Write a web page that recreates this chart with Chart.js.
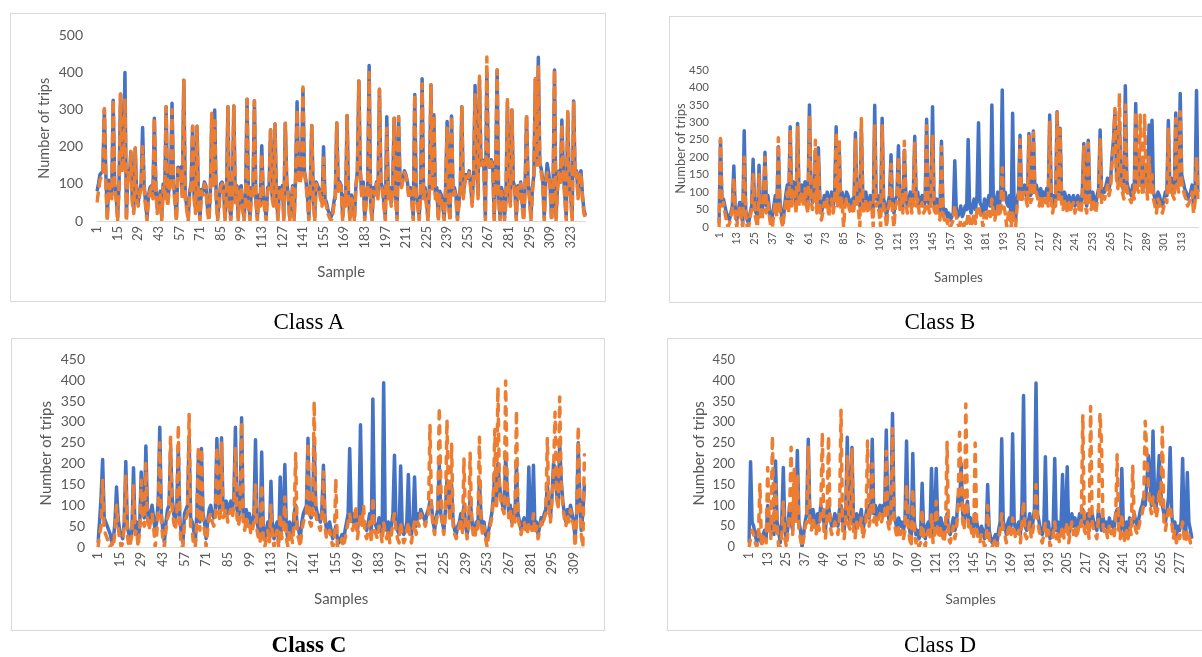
<!DOCTYPE html>
<html>
<head>
<meta charset="utf-8">
<script src="https://cdn.jsdelivr.net/npm/chart.js@4.4.1/dist/chart.umd.min.js"></script>
<style>
  html, body { margin: 0; padding: 0; overflow: hidden; background: #fff; }
  body { width: 1202px; height: 657px; position: relative; }
  .panel { position: absolute; outline: 1px solid #d9d9d9; outline-offset: -1px; background: #fff; }
  .cap { position: absolute; text-align: center; font-family: 'Liberation Serif', 'Times New Roman', serif; font-size: 23px; line-height: 26px; color: #000; }
</style>
</head>
<body>
<div class="panel" style="left:10px;top:13px;width:596px;height:289px"><canvas id="chartA"></canvas></div>
<div class="panel" style="left:669px;top:16px;width:560px;height:287px"><canvas id="chartB"></canvas></div>
<div class="panel" style="left:11px;top:338px;width:594px;height:293px"><canvas id="chartC"></canvas></div>
<div class="panel" style="left:667px;top:338px;width:545px;height:293px"><canvas id="chartD"></canvas></div>
<div class="cap" style="left:0;width:618px;top:309px">Class A</div>
<div class="cap" style="left:640px;width:600px;top:309px">Class B</div>
<div class="cap" style="left:0;width:618px;top:632px;font-weight:bold">Class C</div>
<div class="cap" style="left:640px;width:600px;top:632px">Class D</div>
<script>
// Class A
const actualA = [
  80, 100, 125, 130, 135, 300, 130, 10, 110, 100,
  70, 325, 100, 70, 10, 100, 340, 140, 150, 400,
  10, 135, 110, 185, 60, 30, 195, 70, 50, 80,
  100, 252, 100, 50, 10, 70, 90, 95, 70, 277,
  90, 30, 60, 80, 10, 100, 70, 308, 50, 90,
  110, 317, 100, 60, 10, 145, 135, 145, 70, 379,
  70, 40, 10, 80, 100, 255, 70, 30, 255, 50,
  10, 85, 80, 105, 95, 40, 10, 70, 270, 100,
  299, 70, 10, 50, 100, 105, 90, 10, 70, 308,
  40, 10, 80, 310, 60, 95, 10, 90, 95, 40,
  10, 70, 328, 50, 10, 90, 70, 324, 60, 10,
  70, 50, 203, 70, 40, 10, 90, 95, 246, 70,
  50, 261, 60, 10, 90, 70, 95, 10, 263, 105,
  70, 10, 50, 95, 10, 115, 321, 130, 110, 135,
  355, 135, 110, 70, 10, 95, 257, 70, 10, 105,
  95, 85, 70, 50, 200, 60, 50, 30, 20, 10,
  20, 50, 70, 264, 90, 105, 95, 10, 70, 50,
  284, 60, 10, 70, 50, 10, 95, 135, 377, 135,
  70, 105, 10, 60, 95, 419, 50, 10, 90, 80,
  105, 70, 355, 105, 90, 50, 10, 281, 70, 90,
  50, 95, 277, 70, 10, 281, 105, 95, 115, 135,
  125, 105, 70, 90, 60, 10, 341, 70, 50, 10,
  90, 383, 70, 90, 50, 10, 95, 367, 90, 286,
  70, 90, 10, 80, 70, 40, 10, 90, 268, 50,
  10, 283, 80, 90, 70, 10, 50, 95, 308, 70,
  110, 125, 115, 135, 95, 50, 125, 365, 155, 70,
  380, 155, 165, 145, 10, 400, 155, 145, 165, 155,
  10, 135, 407, 70, 10, 90, 70, 10, 60, 320,
  90, 50, 299, 105, 90, 10, 95, 70, 105, 50,
  10, 90, 280, 105, 70, 10, 90, 125, 383, 155,
  441, 155, 140, 110, 10, 105, 155, 130, 95, 10,
  70, 407, 10, 90, 135, 105, 272, 135, 70, 10,
  290, 105, 70, 10, 323, 125, 135, 70, 125, 135,
  70, 30, 15
];
const predictedA = [
  50, 80, 110, 120, 130, 303, 100, 0, 100, 80,
  60, 327, 90, 60, 0, 90, 343, 130, 140, 330,
  0, 130, 100, 188, 50, 20, 197, 60, 40, 70,
  90, 200, 90, 40, 0, 60, 80, 90, 60, 277,
  80, 20, 50, 70, 0, 90, 60, 308, 40, 80,
  100, 300, 90, 50, 0, 140, 130, 140, 60, 379,
  60, 30, 0, 70, 90, 255, 60, 20, 255, 40,
  0, 80, 70, 100, 90, 30, 0, 60, 290, 90,
  270, 60, 0, 40, 90, 100, 80, 0, 60, 308,
  30, 0, 70, 310, 50, 90, 0, 80, 90, 30,
  0, 60, 328, 40, 0, 80, 60, 324, 50, 0,
  60, 40, 180, 60, 30, 0, 80, 90, 246, 60,
  40, 261, 50, 0, 80, 60, 90, 0, 263, 100,
  60, 0, 40, 90, 0, 110, 300, 120, 100, 130,
  361, 130, 100, 60, 0, 90, 257, 60, 0, 100,
  90, 80, 60, 40, 170, 50, 40, 20, 10, 0,
  10, 40, 60, 264, 80, 100, 90, 0, 60, 40,
  284, 50, 0, 60, 40, 0, 90, 130, 377, 130,
  60, 100, 0, 50, 90, 400, 40, 0, 80, 70,
  100, 60, 355, 100, 80, 40, 0, 250, 60, 80,
  40, 90, 277, 60, 0, 281, 100, 90, 110, 130,
  120, 100, 60, 80, 50, 0, 341, 60, 40, 0,
  80, 370, 60, 80, 40, 0, 90, 367, 80, 286,
  60, 80, 0, 70, 60, 30, 0, 80, 250, 40,
  0, 283, 70, 80, 60, 0, 40, 90, 308, 60,
  100, 120, 110, 130, 90, 40, 120, 340, 150, 60,
  390, 150, 160, 140, 0, 442, 150, 140, 160, 150,
  0, 130, 407, 60, 0, 80, 60, 0, 50, 327,
  80, 40, 299, 100, 80, 0, 90, 60, 100, 40,
  0, 80, 286, 100, 60, 0, 80, 120, 383, 150,
  420, 150, 130, 100, 0, 100, 130, 120, 90, 0,
  60, 407, 0, 80, 130, 100, 260, 130, 60, 0,
  295, 100, 60, 0, 323, 120, 130, 60, 120, 130,
  60, 20, 10
];

// Class B
const actualB = [
  10, 250, 70, 80, 60, 40, 30, 20, 40, 60,
  175, 40, 20, 50, 70, 40, 10, 276, 50, 20,
  10, 40, 60, 194, 60, 40, 30, 177, 50, 40,
  80, 214, 60, 90, 50, 10, 30, 60, 90, 50,
  230, 80, 40, 10, 50, 90, 120, 60, 287, 80,
  130, 110, 60, 297, 80, 110, 120, 90, 130, 80,
  60, 350, 100, 70, 90, 220, 60, 227, 80, 40,
  60, 90, 70, 100, 50, 80, 100, 60, 90, 287,
  80, 240, 70, 100, 60, 80, 100, 90, 70, 60,
  80, 60, 270, 90, 70, 60, 280, 80, 60, 100,
  70, 60, 90, 80, 40, 349, 80, 90, 60, 40,
  312, 80, 60, 30, 70, 90, 207, 60, 40, 80,
  90, 233, 70, 100, 60, 220, 90, 60, 80, 100,
  60, 90, 260, 80, 100, 60, 80, 90, 60, 70,
  309, 80, 60, 90, 345, 70, 60, 80, 50, 40,
  246, 60, 40, 50, 30, 40, 20, 30, 40, 190,
  50, 30, 40, 60, 30, 40, 60, 50, 251, 60,
  40, 60, 80, 50, 90, 299, 70, 60, 40, 80,
  50, 70, 90, 60, 350, 70, 50, 80, 100, 60,
  90, 393, 80, 100, 70, 60, 90, 20, 326, 60,
  20, 80, 100, 263, 90, 110, 120, 100, 80, 268,
  90, 100, 275, 110, 120, 100, 90, 110, 80, 100,
  90, 110, 80, 321, 100, 60, 90, 80, 330, 100,
  283, 90, 70, 100, 80, 60, 90, 70, 80, 90,
  60, 80, 90, 70, 60, 100, 239, 80, 60, 249,
  90, 70, 100, 80, 60, 90, 110, 278, 90, 110,
  100, 120, 140, 110, 130, 200, 250, 332, 160, 130,
  300, 150, 120, 100, 405, 130, 110, 100, 90, 120,
  100, 354, 130, 120, 200, 140, 110, 180, 150, 100,
  292, 120, 306, 100, 80, 60, 100, 90, 70, 60,
  80, 100, 90, 305, 120, 140, 110, 100, 327, 140,
  120, 383, 150, 130, 110, 100, 80, 90, 100, 120,
  60, 90, 391, 100
];
const predictedB = [
  0, 254, 60, 70, 40, 20, 0, 10, 30, 50,
  140, 30, 0, 40, 60, 20, 0, 200, 40, 0,
  0, 30, 50, 150, 40, 20, 0, 150, 30, 20,
  60, 200, 40, 70, 30, 0, 0, 40, 70, 30,
  256, 60, 20, 0, 40, 70, 100, 40, 280, 60,
  100, 90, 40, 290, 60, 90, 100, 60, 110, 60,
  40, 320, 80, 50, 70, 249, 40, 200, 60, 20,
  40, 70, 50, 80, 30, 60, 80, 40, 70, 270,
  60, 251, 50, 80, 0, 60, 80, 70, 50, 40,
  60, 40, 250, 70, 50, 0, 311, 60, 40, 80,
  50, 40, 70, 60, 0, 290, 60, 70, 40, 0,
  290, 60, 40, 0, 50, 70, 180, 40, 0, 60,
  70, 200, 50, 80, 40, 246, 70, 40, 60, 80,
  40, 70, 240, 60, 80, 40, 60, 70, 40, 50,
  290, 60, 40, 70, 260, 50, 40, 60, 30, 20,
  230, 40, 20, 30, 10, 20, 0, 10, 20, 60,
  30, 10, 0, 20, 10, 0, 20, 10, 40, 20,
  0, 20, 40, 10, 50, 60, 40, 30, 0, 40,
  20, 40, 50, 30, 80, 40, 20, 50, 60, 30,
  50, 170, 60, 40, 0, 30, 50, 0, 40, 20,
  0, 60, 80, 250, 70, 90, 100, 80, 60, 260,
  70, 80, 270, 90, 100, 80, 60, 90, 60, 80,
  70, 90, 60, 300, 80, 40, 70, 60, 333, 80,
  280, 70, 50, 80, 60, 40, 70, 50, 60, 70,
  40, 60, 70, 50, 40, 80, 230, 60, 40, 240,
  70, 50, 80, 60, 40, 70, 90, 250, 70, 90,
  80, 100, 120, 90, 110, 180, 230, 340, 140, 110,
  383, 130, 100, 80, 350, 110, 90, 80, 70, 100,
  80, 330, 110, 100, 321, 120, 90, 320, 130, 80,
  200, 100, 150, 80, 60, 40, 80, 70, 50, 40,
  60, 80, 70, 280, 100, 120, 90, 80, 310, 120,
  100, 330, 130, 110, 90, 80, 60, 70, 80, 100,
  40, 70, 200, 80
];

// Class C
const actualC = [
  10, 60, 120, 210, 70, 60, 50, 40, 30, 10,
  20, 60, 144, 70, 40, 30, 20, 60, 205, 50,
  30, 20, 40, 190, 40, 60, 20, 50, 180, 80,
  70, 242, 90, 60, 80, 100, 70, 40, 60, 110,
  287, 80, 40, 10, 60, 90, 100, 235, 120, 80,
  60, 90, 240, 70, 30, 10, 80, 90, 100, 265,
  70, 60, 40, 10, 80, 220, 60, 236, 80, 60,
  20, 60, 90, 100, 80, 70, 90, 260, 110, 80,
  262, 90, 100, 110, 80, 100, 110, 90, 120, 287,
  90, 70, 100, 310, 80, 60, 90, 70, 80, 50,
  60, 80, 257, 60, 40, 30, 228, 50, 20, 40,
  60, 30, 158, 40, 20, 50, 60, 10, 168, 40,
  60, 198, 40, 20, 60, 50, 30, 80, 100, 50,
  40, 20, 60, 80, 90, 100, 261, 80, 70, 90,
  260, 100, 80, 70, 60, 90, 196, 70, 40, 50,
  60, 40, 20, 30, 50, 20, 10, 20, 30, 10,
  40, 60, 80, 236, 70, 60, 80, 60, 40, 70,
  293, 70, 60, 50, 40, 60, 80, 30, 355, 60,
  50, 40, 70, 60, 30, 394, 50, 40, 60, 30,
  50, 80, 220, 60, 40, 30, 194, 50, 30, 40,
  60, 174, 40, 30, 60, 168, 50, 80, 70, 90,
  80, 70, 60, 80, 90, 110, 100, 60, 40, 70,
  90, 200, 80, 60, 40, 90, 160, 110, 80, 150,
  60, 40, 30, 50, 60, 80, 40, 100, 60, 30,
  50, 120, 70, 40, 30, 60, 50, 160, 80, 40,
  60, 30, 20, 40, 60, 80, 120, 180, 100, 200,
  150, 120, 100, 90, 220, 140, 80, 100, 60, 90,
  70, 200, 80, 60, 40, 60, 70, 50, 40, 192,
  60, 50, 196, 40, 60, 30, 50, 70, 60, 80,
  90, 150, 100, 70, 120, 200, 190, 130, 100, 250,
  160, 110, 80, 60, 90, 70, 100, 80, 60, 20,
  80, 250, 120, 40, 80, 150
];
const predictedC = [
  0, 30, 50, 160, 40, 30, 20, 0, 0, 10,
  0, 40, 100, 50, 20, 0, 10, 50, 170, 30,
  0, 10, 30, 150, 30, 40, 0, 40, 160, 60,
  50, 200, 70, 40, 60, 80, 50, 0, 30, 90,
  250, 60, 20, 0, 40, 70, 80, 265, 90, 60,
  40, 70, 293, 50, 0, 0, 60, 70, 80, 319,
  50, 40, 0, 0, 60, 241, 40, 236, 60, 40,
  0, 40, 70, 80, 60, 50, 70, 240, 90, 60,
  250, 70, 80, 90, 60, 80, 90, 70, 100, 240,
  70, 50, 80, 300, 60, 40, 70, 50, 60, 30,
  40, 60, 150, 40, 20, 10, 150, 30, 0, 20,
  40, 10, 100, 20, 0, 30, 40, 0, 80, 20,
  40, 120, 20, 0, 40, 30, 10, 60, 224, 30,
  20, 0, 40, 60, 70, 80, 250, 60, 50, 70,
  349, 80, 60, 50, 40, 70, 180, 50, 20, 30,
  40, 20, 0, 10, 164, 0, 0, 10, 20, 0,
  20, 40, 60, 80, 50, 40, 60, 100, 20, 50,
  80, 50, 100, 30, 20, 40, 60, 10, 120, 40,
  30, 20, 50, 40, 10, 60, 30, 20, 40, 10,
  30, 60, 80, 40, 20, 10, 60, 30, 10, 20,
  40, 60, 20, 10, 40, 60, 30, 60, 50, 80,
  70, 60, 50, 70, 80, 293, 90, 50, 30, 60,
  80, 335, 150, 50, 30, 80, 305, 100, 60, 248,
  50, 30, 20, 40, 50, 70, 30, 213, 50, 20,
  40, 225, 60, 30, 20, 50, 40, 263, 70, 30,
  50, 20, 0, 30, 50, 70, 110, 282, 90, 383,
  140, 110, 90, 80, 398, 150, 70, 90, 50, 80,
  60, 327, 70, 50, 30, 50, 60, 40, 30, 60,
  50, 40, 80, 30, 50, 20, 40, 60, 50, 70,
  80, 260, 90, 60, 110, 180, 323, 120, 90, 360,
  150, 100, 70, 50, 80, 60, 90, 70, 50, 0,
  70, 290, 110, 30, 0, 221
];

// Class D
const actualD = [
  10, 205, 60, 50, 30, 10, 40, 20, 10, 30,
  40, 20, 100, 60, 40, 50, 30, 207, 60, 40,
  10, 60, 191, 40, 20, 50, 100, 60, 40, 150,
  80, 232, 60, 40, 0, 30, 60, 80, 259, 80,
  60, 90, 70, 50, 80, 60, 100, 80, 60, 40,
  90, 100, 70, 50, 60, 80, 70, 50, 90, 100,
  60, 40, 80, 264, 70, 60, 239, 60, 40, 80,
  60, 70, 90, 40, 60, 80, 100, 70, 90, 259,
  80, 100, 70, 90, 100, 80, 100, 90, 281, 80,
  60, 100, 321, 80, 60, 40, 70, 50, 60, 40,
  60, 255, 70, 40, 20, 225, 60, 30, 40, 20,
  30, 153, 40, 20, 50, 60, 40, 189, 30, 50,
  189, 60, 40, 70, 50, 30, 60, 80, 40, 30,
  50, 70, 40, 60, 120, 100, 200, 80, 60, 90,
  110, 60, 70, 50, 40, 80, 60, 40, 30, 50,
  40, 20, 30, 150, 40, 20, 10, 20, 30, 10,
  40, 60, 260, 60, 50, 30, 60, 70, 50, 272,
  60, 40, 50, 60, 30, 100, 364, 50, 40, 60,
  80, 40, 60, 90, 394, 80, 60, 40, 30, 50,
  217, 40, 60, 20, 30, 50, 213, 40, 60, 30,
  50, 174, 40, 60, 193, 30, 60, 80, 50, 70,
  40, 60, 80, 70, 90, 60, 50, 80, 40, 60,
  80, 60, 50, 40, 90, 60, 40, 70, 50, 60,
  40, 70, 50, 60, 40, 80, 90, 60, 40, 189,
  50, 30, 60, 40, 70, 50, 60, 80, 60, 50,
  70, 90, 100, 120, 100, 150, 220, 180, 100, 279,
  120, 90, 150, 220, 130, 100, 80, 60, 90, 120,
  239, 80, 40, 60, 30, 50, 40, 60, 213, 40,
  30, 179, 60, 40, 20
];
const predictedD = [
  0, 20, 40, 30, 10, 0, 20, 153, 0, 20,
  30, 10, 191, 40, 20, 267, 40, 150, 50, 0,
  0, 30, 110, 20, 0, 40, 80, 240, 30, 187,
  60, 170, 40, 20, 0, 20, 50, 60, 240, 60,
  40, 70, 50, 30, 60, 40, 80, 275, 40, 20,
  70, 267, 50, 30, 40, 60, 50, 30, 70, 329,
  40, 20, 60, 220, 50, 40, 235, 40, 20, 60,
  40, 50, 70, 20, 40, 60, 255, 50, 70, 200,
  60, 80, 50, 70, 80, 60, 80, 70, 230, 60,
  40, 80, 285, 60, 40, 20, 50, 30, 40, 20,
  40, 150, 50, 20, 0, 140, 40, 10, 20, 0,
  10, 90, 20, 0, 30, 40, 20, 80, 10, 30,
  110, 40, 20, 50, 30, 10, 40, 252, 20, 10,
  30, 50, 20, 40, 100, 276, 170, 60, 40, 344,
  90, 40, 50, 30, 20, 250, 40, 20, 10, 30,
  20, 0, 10, 100, 20, 0, 0, 10, 20, 0,
  20, 40, 80, 40, 30, 10, 40, 50, 30, 70,
  40, 20, 30, 40, 10, 60, 110, 30, 20, 40,
  60, 20, 40, 70, 150, 60, 40, 20, 10, 30,
  60, 20, 40, 0, 10, 30, 60, 20, 40, 10,
  30, 50, 20, 40, 60, 10, 40, 60, 30, 50,
  20, 40, 60, 50, 318, 40, 30, 60, 20, 338,
  60, 40, 30, 20, 70, 322, 250, 50, 30, 40,
  20, 50, 30, 40, 20, 60, 222, 40, 20, 80,
  30, 10, 40, 20, 50, 30, 194, 60, 40, 30,
  50, 70, 80, 100, 302, 230, 150, 100, 80, 120,
  100, 70, 90, 140, 100, 288, 60, 40, 70, 90,
  100, 60, 20, 40, 10, 30, 20, 40, 60, 20,
  10, 40, 30, 10, 0
];

const BLUE = '#4472c4';
const ORANGE = '#ed7d31';
const GREY = '#595959';
const FONT = 'Lato, "Open Sans", sans-serif';

function drawPanel(id, actual, predicted, p) {
  const labels = actual.map((_, i) => String(i + 1));
  return new Chart(document.getElementById(id), {
    type: 'line',
    data: {
      labels,
      datasets: [
        { label: 'Predicted', data: predicted, borderColor: ORANGE, borderWidth: 3.5, borderDash: p.dash,
          borderCapStyle: p.cap, pointRadius: 0, borderJoinStyle: 'round', tension: 0, fill: false },
        { label: 'Actual', data: actual, borderColor: BLUE, borderWidth: 3.5,
          pointRadius: 0, borderJoinStyle: 'round', tension: 0, fill: false }
      ]
    },
    options: {
      responsive: true,
      maintainAspectRatio: false,
      animation: false,
      events: [],
      layout: { padding: { top: p.padTop, right: p.padRight, left: 0, bottom: 0 } },
      plugins: { legend: { display: false }, tooltip: { enabled: false } },
      scales: {
        x: {
          grid: { display: false, drawTicks: false },
          border: { display: true, color: '#d9d9d9', width: 1 },
          ticks: {
            autoSkip: false, minRotation: 90, maxRotation: 90, padding: p.xTickPad,
            color: GREY, font: { family: FONT, size: p.xTickSize },
            callback(v, i) { return i % p.every === 0 ? this.getLabelForValue(v) : ''; }
          },
          title: { display: true, text: p.xTitle, color: GREY,
                   font: { family: FONT, size: p.xTitleSize }, padding: { top: 0, bottom: p.xTitlePad } },
          afterFit(s) { s.height = p.xAxisH; }
        },
        y: {
          min: 0, max: p.yMax,
          grid: { display: false, drawTicks: false },
          border: { display: false },
          ticks: { stepSize: p.yStep, padding: p.yTickPad, color: GREY, font: { family: FONT, size: p.yTickSize } },
          title: { display: true, text: 'Number of trips', color: GREY,
                   font: { family: FONT, size: p.yTitleSize }, padding: { top: p.yTitlePad, bottom: 0 } },
          afterFit(s) { s.width = p.yAxisW; }
        }
      }
    }
  });
}

drawPanel('chartA', actualA, predictedA, {
  yMax: 500, yStep: 100, every: 14, xTitle: 'Sample', dash: [11, 4], cap: 'butt',
  padTop: 20, padRight: 20, yAxisW: 87, xAxisH: 81,
  yTickPad: 14, yTickSize: 14, yTitleSize: 14.5, yTitlePad: 26,
  xTickPad: 5, xTickSize: 13, xTitleSize: 15, xTitlePad: 21
});
drawPanel('chartB', actualB, predictedB, {
  yMax: 450, yStep: 50, every: 12, xTitle: 'Samples', dash: [10, 4], cap: 'butt',
  padTop: 54, padRight: 31, yAxisW: 50, xAxisH: 76,
  yTickPad: 10, yTickSize: 11.5, yTitleSize: 13, yTitlePad: 4,
  xTickPad: 5, xTickSize: 11, xTitleSize: 13.5, xTitlePad: 17
});
drawPanel('chartC', actualC, predictedC, {
  yMax: 450, yStep: 50, every: 14, xTitle: 'Samples', dash: [7, 8], cap: 'round',
  padTop: 20, padRight: 20, yAxisW: 87, xAxisH: 84,
  yTickPad: 13, yTickSize: 14, yTitleSize: 15, yTitlePad: 26,
  xTickPad: 5, xTickSize: 13, xTitleSize: 15, xTitlePad: 23
});
drawPanel('chartD', actualD, predictedD, {
  yMax: 450, yStep: 50, every: 12, xTitle: 'Samples', dash: [7, 8], cap: 'round',
  padTop: 20, padRight: 14, yAxisW: 82, xAxisH: 84,
  yTickPad: 14, yTickSize: 13, yTitleSize: 15, yTitlePad: 23,
  xTickPad: 5, xTickSize: 12.5, xTitleSize: 14, xTitlePad: 23
});
</script>
</body>
</html>
